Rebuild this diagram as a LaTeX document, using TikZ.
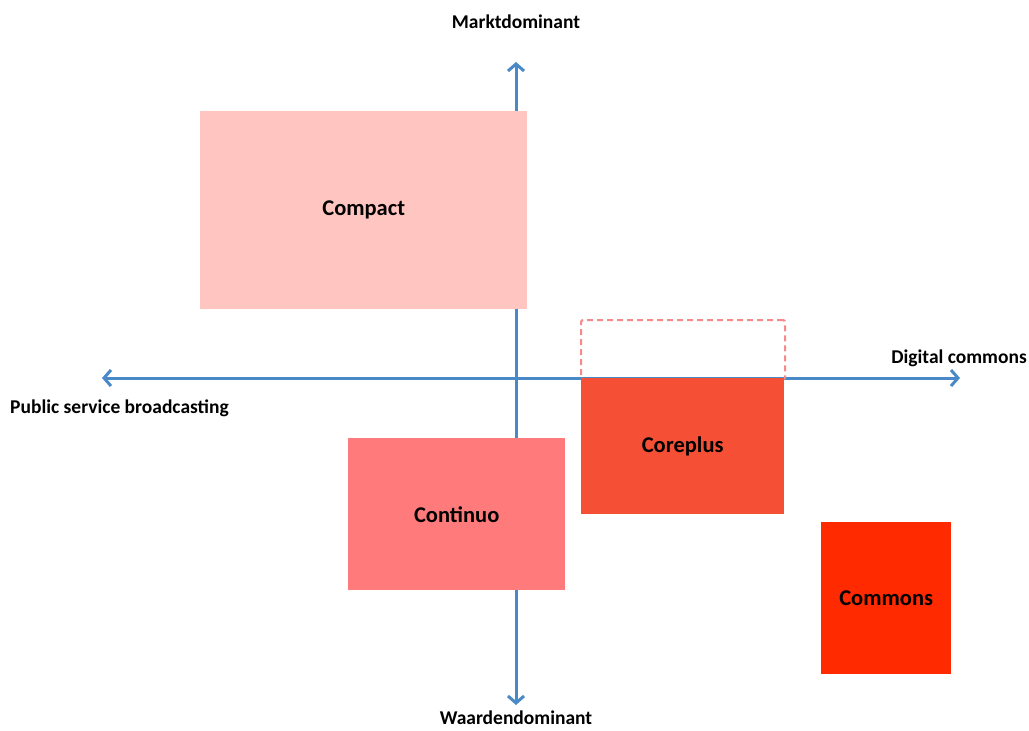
\documentclass[tikz,border=0pt]{standalone}
\usepackage{fontspec}
\setmainfont{Carlito}
\usetikzlibrary{arrows.meta}
\definecolor{axisblue}{HTML}{4A89C8}
\definecolor{compactc}{HTML}{FFC5C0}
\definecolor{continuoc}{HTML}{FF7B7B}
\definecolor{coreplusc}{HTML}{F55035}
\definecolor{commonsc}{HTML}{FF2A00}
\definecolor{dashc}{HTML}{F58A8A}
\begin{document}
\begin{tikzpicture}[x=1pt,y=-1pt,
  barb/.tip={Straight Barb[length=7pt,width=16pt,line width=3pt]},
  axis/.style={draw=axisblue,line width=3pt,barb-barb},
  axislabel/.style={font=\bfseries\fontsize{19.5}{22}\selectfont,inner sep=0pt},
  box/.style={draw=none,inner sep=0pt,font=\bfseries\fontsize{22.5}{26}\selectfont,anchor=north west}]
\useasboundingbox (0,0) rectangle (1029,731);
% axes
\coordinate (top) at (516,62);
\coordinate (bottom) at (516,705);
\coordinate (left) at (102,378);
\coordinate (right) at (960,378);
\draw[axis] (bottom) -- (top);
\draw[axis] (left) -- (right);
% axis labels
\node[axislabel] (mkt) at (516,22) {Marktdominant};
\node[axislabel] (wrd) at (516,718) {Waardendominant};
\node[axislabel,anchor=west] (psb) at (10,408) {Public service broadcasting};
\node[axislabel,anchor=east] (dig) at (1027,358) {Digital commons};
% quadrant boxes
\node[box,fill=compactc,minimum width=327pt,minimum height=198pt] (compact) at (200,111) {Compact};
\node[box,draw=dashc,dashed,dash pattern=on 6pt off 4pt,line width=2.2pt,rounded corners=2pt,minimum width=204pt,minimum height=59pt] (ghost) at (580,319) {};
\node[box,fill=coreplusc,minimum width=203pt,minimum height=136pt] (coreplus) at (581,378) {Coreplus};
\node[box,fill=continuoc,minimum width=217pt,minimum height=152pt] (continuo) at (348,438) {Continuo};
\node[box,fill=commonsc,minimum width=130pt,minimum height=152pt] (commons) at (821,522) {Commons};
\end{tikzpicture}
\end{document}
